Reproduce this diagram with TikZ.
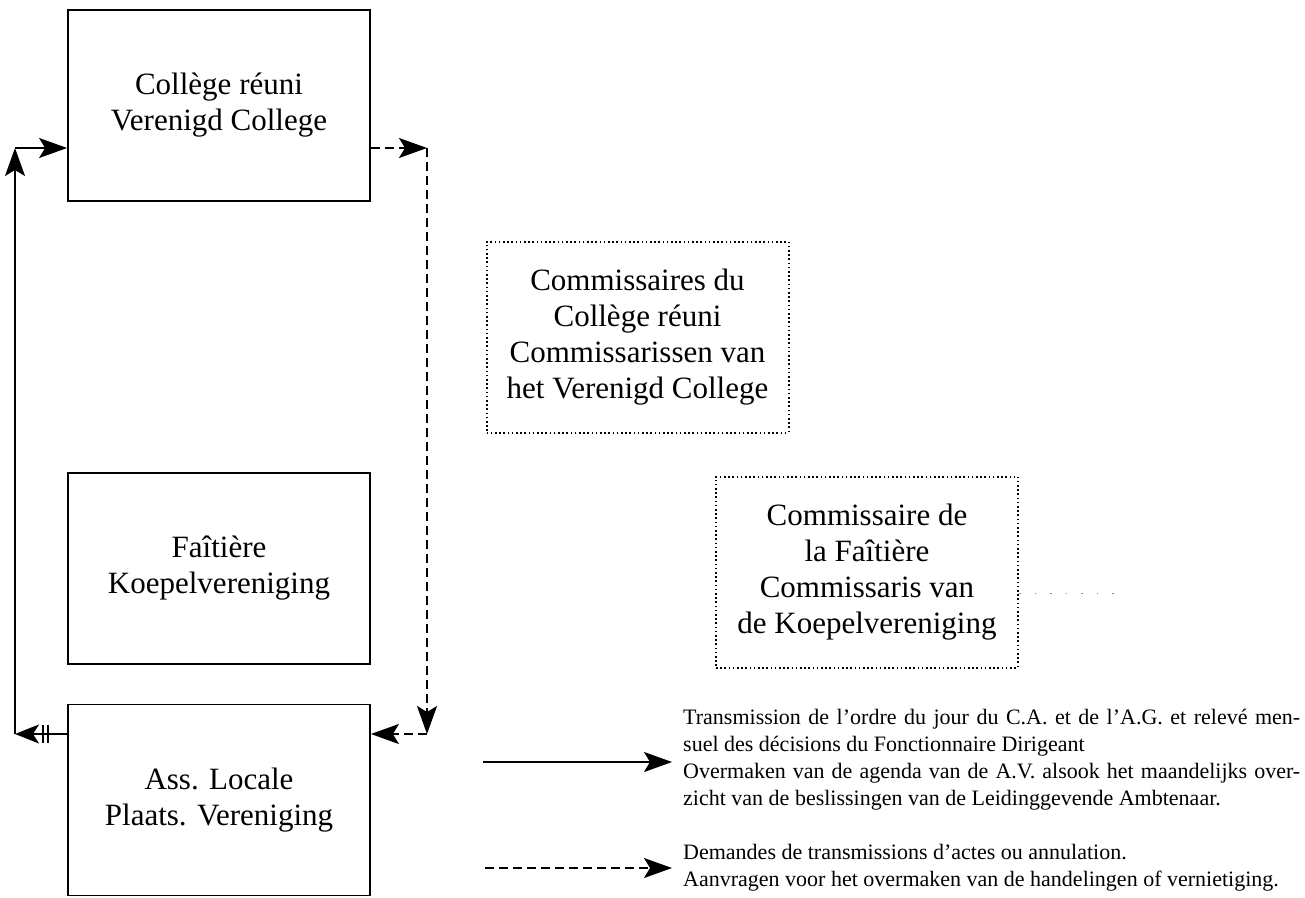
\documentclass[tikz,border=0pt]{standalone}
\usepackage{fontspec}
\setmainfont{Liberation Serif}
\usetikzlibrary{arrows.meta}
\begin{document}
\begin{tikzpicture}[x=1pt,y=-1pt,
  box/.style={draw, line width=1.8pt, minimum width=302pt, minimum height=191pt, align=center, inner sep=0pt, font=\fontsize{31}{36}\selectfont},
  dbox/.style={box, line width=2pt, dash pattern=on 1.6pt off 2.6pt},
  arr/.style={line width=1.7pt, -{Stealth[length=28pt,width=20pt,inset=6pt]}},
  darr/.style={arr, dash pattern=on 9pt off 5pt},
  tarr/.style={line width=1.7pt, -{Bar[width=18pt,line width=2.2pt,sep=2.5pt]Bar[width=18pt,line width=2.2pt,sep=3pt]Stealth[length=24pt,width=19pt,inset=6pt]}},
  legend/.style={anchor=west, align=left, inner sep=0pt, font=\fontsize{22}{27}\selectfont}]
\useasboundingbox (0,0) rectangle (1305,897);

\node[box] (b1) at (219,105.5) {Collège réuni\\Verenigd College};
\node[box] (b2) at (219,568.5) {Faîtière\\Koepelvereniging};
\node[box] (b3) at (219,800) {Ass. Locale\\Plaats. Vereniging};
\node[dbox] (c1) at (637.5,337) {Commissaires du\\Collège réuni\\Commissarissen van\\het Verenigd College};
\node[dbox] (c2) at (867,572) {Commissaire de\\la Faîtière\\Commissaris van\\de Koepelvereniging};

\coordinate (lt) at (15,148);
\coordinate (lb) at (15,734);
\coordinate (rt) at (427,148);
\coordinate (rb) at (427,734);
\draw[tarr] (b3.west |- lb) -- (lb);
\draw[arr] (lb) -- (lt);
\draw[arr] (lt) -- (b1.west |- lt);
\draw[darr] (b1.east |- rt) -- (rt);
\draw[darr] (rt) -- (rb);
\draw[darr] (rb) -- (b3.east |- rb);

\coordinate (fe) at (1125,593);
\draw[black!45, line width=1pt, dash pattern=on 1.5pt off 14pt] (c2.east |- fe) -- (fe);

\coordinate (la) at (483,762);
\coordinate (lae) at (672,762);
\coordinate (lc) at (485,868);
\coordinate (lce) at (672,868);
\draw[arr] (la) -- (lae);
\draw[darr] (lc) -- (lce);
\node[legend] (t1) at (683,760) {\makebox[617pt][s]{Transmission de l’ordre du jour du C.A. et de l’A.G. et relevé men-}\\suel des décisions du Fonctionnaire Dirigeant\\\makebox[617pt][s]{Overmaken van de agenda van de A.V. alsook het maandelijks over-}\\zicht van de beslissingen van de Leidinggevende Ambtenaar.};
\node[legend] (t2) at (683,868) {Demandes de transmissions d’actes ou annulation.\\Aanvragen voor het overmaken van de handelingen of vernietiging.};
\end{tikzpicture}
\end{document}
